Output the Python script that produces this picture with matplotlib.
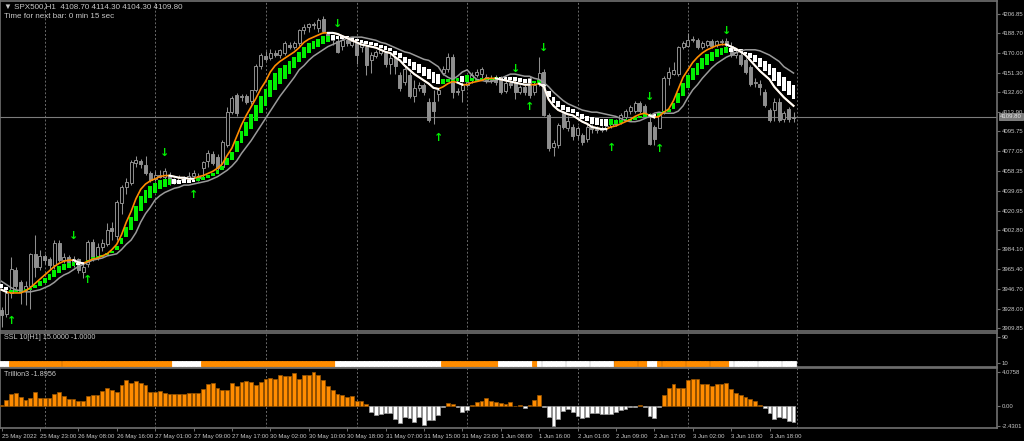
import matplotlib
matplotlib.use('Agg')
import matplotlib.pyplot as plt
import numpy as np

plt.rcParams['font.family'] = ['Liberation Sans', 'DejaVu Sans']

# ---------------- data ----------------
opens = [3927, 3923, 3943, 3965, 3953, 3946, 3950, 3980, 3968, 3978,
         3975, 3969, 3990, 3974, 3977, 3972, 3975, 3963, 3970, 3991,
         3977, 3986, 3989, 4004, 3997, 4028, 4043, 4047, 4066, 4068,
         4064, 4056, 4051, 4055, 4053, 4055, 4048, 4050, 4052, 4051,
         4054, 4054, 4061, 4068, 4074, 4072, 4062, 4083, 4114, 4130,
         4128, 4129, 4125, 4135, 4158, 4167, 4165, 4170, 4168, 4170,
         4178, 4176, 4179, 4192, 4195, 4197, 4194, 4202, 4188, 4185,
         4181, 4177, 4182, 4178, 4179, 4176, 4176, 4163, 4167, 4170,
         4170, 4160, 4165, 4149, 4143, 4149, 4129, 4137, 4140, 4124,
         4124, 4131, 4151, 4155, 4166, 4133, 4135, 4140, 4144, 4149,
         4150, 4147, 4144, 4146, 4146, 4134, 4142, 4143, 4133, 4138,
         4146, 4133, 4141, 4152, 4111, 4081, 4083, 4113, 4099, 4100,
         4092, 4092, 4089, 4100, 4098, 4097, 4099, 4101, 4103, 4105,
         4109, 4115, 4115, 4123, 4120, 4105, 4100, 4099, 4114, 4146,
         4150, 4150, 4176, 4177, 4182, 4182, 4176, 4178, 4181, 4178,
         4180, 4181, 4177, 4168, 4168, 4163, 4157, 4142, 4141, 4133,
         4116, 4116, 4124, 4108, 4117, 4108.7]
highs = [3930, 3949, 3977, 3968, 3955, 3954, 3981, 3998, 3984, 3980,
         3977, 3993, 3993, 3981, 3979, 3978, 3976, 3971, 3993, 3994,
         3990, 3994, 4009, 4010, 4031, 4045, 4052, 4069, 4073, 4070,
         4073, 4058, 4058, 4059, 4061, 4057, 4052, 4055, 4054, 4057,
         4059, 4056, 4068, 4078, 4077, 4074, 4088, 4119, 4129, 4132,
         4131, 4131, 4135, 4160, 4170, 4172, 4174, 4173, 4174, 4181,
         4180, 4181, 4193, 4197, 4198, 4199, 4203, 4205, 4190, 4186,
         4184, 4184, 4183, 4182, 4180, 4181, 4178, 4171, 4173, 4175,
         4172, 4170, 4168, 4152, 4158, 4152, 4144, 4143, 4142, 4127,
         4135, 4137, 4158, 4170, 4169, 4137, 4143, 4146, 4152, 4155,
         4157, 4150, 4149, 4149, 4148, 4144, 4144, 4145, 4140, 4140,
         4148, 4143, 4166, 4155, 4113, 4088, 4104, 4115, 4110, 4103,
         4101, 4094, 4103, 4103, 4101, 4101, 4104, 4106, 4108, 4113,
         4117, 4121, 4125, 4125, 4122, 4113, 4102, 4114, 4148, 4157,
         4161, 4177, 4181, 4189, 4186, 4184, 4181, 4182, 4183, 4182,
         4183, 4184, 4180, 4173, 4170, 4165, 4159, 4146, 4144, 4136,
         4118, 4127, 4127, 4115, 4119, 4114.3]
lows = [3911, 3920, 3938, 3947, 3933, 3932, 3928, 3958, 3965, 3970,
        3965, 3966, 3972, 3971, 3969, 3968, 3962, 3957, 3968, 3973,
        3974, 3983, 3987, 3993, 3993, 4018, 4037, 4045, 4062, 4061,
        4055, 4048, 4049, 4052, 4050, 4045, 4046, 4048, 4049, 4049,
        4052, 4049, 4053, 4062, 4064, 4059, 4060, 4081, 4112, 4110,
        4125, 4122, 4122, 4133, 4155, 4162, 4163, 4166, 4165, 4168,
        4174, 4174, 4177, 4188, 4190, 4193, 4190, 4189, 4182, 4178,
        4170, 4173, 4177, 4176, 4160, 4171, 4149, 4151, 4165, 4168,
        4157, 4150, 4150, 4134, 4140, 4127, 4124, 4134, 4130, 4105,
        4103, 4125, 4149, 4152, 4127, 4130, 4124, 4138, 4142, 4147,
        4146, 4142, 4142, 4140, 4131, 4132, 4137, 4126, 4131, 4130,
        4127, 4130, 4139, 4110, 4077, 4073, 4080, 4098, 4096, 4088,
        4089, 4083, 4086, 4094, 4094, 4095, 4096, 4099, 4101, 4103,
        4107, 4112, 4113, 4113, 4111, 4083, 4083, 4099, 4112, 4140,
        4149, 4148, 4174, 4176, 4180, 4174, 4174, 4176, 4175, 4176,
        4178, 4176, 4166, 4165, 4158, 4150, 4139, 4138, 4130, 4119,
        4105, 4106, 4105, 4105, 4105, 4104.3]
closes = [3922, 3943, 3966, 3950, 3946, 3950, 3980, 3968, 3978, 3974,
          3969, 3990, 3974, 3977, 3972, 3975, 3965, 3968, 3991, 3976,
          3986, 3990, 4003, 4002, 4029, 4043, 4048, 4067, 4069, 4065,
          4056, 4050, 4055, 4053, 4058, 4047, 4050, 4052, 4051, 4054,
          4056, 4052, 4067, 4075, 4066, 4061, 4086, 4114, 4127, 4113,
          4129, 4124, 4135, 4158, 4168, 4164, 4170, 4168, 4173, 4179,
          4176, 4179, 4192, 4195, 4197, 4196, 4201, 4191, 4185, 4182,
          4171, 4182, 4179, 4181, 4168, 4180, 4159, 4168, 4171, 4173,
          4160, 4165, 4158, 4137, 4155, 4129, 4137, 4140, 4133, 4107,
          4115, 4135, 4155, 4166, 4133, 4134, 4140, 4143, 4149, 4152,
          4155, 4144, 4146, 4143, 4133, 4142, 4140, 4133, 4138, 4133,
          4130, 4140, 4151, 4111, 4080, 4085, 4102, 4100, 4106, 4091,
          4099, 4086, 4100, 4098, 4097, 4099, 4101, 4103, 4106, 4111,
          4115, 4119, 4123, 4115, 4113, 4084, 4089, 4111, 4146, 4152,
          4154, 4176, 4179, 4182, 4183, 4176, 4179, 4181, 4177, 4181,
          4181, 4178, 4168, 4171, 4160, 4152, 4141, 4143, 4138, 4121,
          4107, 4124, 4107, 4113, 4108, 4109.8]

fast_ma = [3946, 3944, 3943, 3943, 3943, 3945, 3948, 3952, 3956, 3960,
           3964, 3968, 3971, 3973, 3974, 3974, 3972, 3971, 3973, 3975,
           3976, 3978, 3980, 3984, 3989, 3998, 4010, 4020, 4032, 4041,
           4046, 4049, 4051, 4053, 4054, 4054, 4053, 4052, 4052, 4051,
           4051, 4053, 4054, 4056, 4058, 4061, 4065, 4073, 4080, 4091,
           4102, 4111, 4119, 4127, 4136, 4143, 4152, 4158, 4162, 4165,
           4168, 4171, 4175, 4180, 4183, 4185, 4187, 4189, 4189, 4189,
           4188, 4186, 4184, 4182, 4180, 4178, 4177, 4176, 4175, 4173,
           4171, 4170, 4166, 4163, 4158, 4154, 4150, 4147, 4144, 4141,
           4137, 4136, 4138, 4141, 4143, 4142, 4140, 4140, 4142, 4143,
           4144, 4146, 4146, 4146, 4145, 4144, 4143, 4142, 4141, 4140,
           4140, 4140, 4141, 4138, 4126, 4120, 4116, 4114, 4112, 4111,
           4108, 4105, 4103, 4100, 4099, 4098, 4098, 4100, 4101, 4103,
           4105, 4107, 4110, 4112, 4113, 4111, 4109, 4110, 4114, 4117,
           4125, 4136, 4147, 4154, 4161, 4166, 4170, 4173, 4175, 4177,
           4178, 4178, 4176, 4174, 4171, 4168, 4163, 4158, 4153, 4149,
           4145, 4138, 4133, 4128, 4124, 4120]
slow_ma = [3954, 3951, 3948, 3946, 3945, 3944, 3944, 3945, 3946, 3948,
           3950, 3953, 3957, 3960, 3962, 3965, 3968, 3970, 3972, 3974,
           3975, 3976, 3978, 3979, 3980, 3984, 3989, 3993, 4000, 4010,
           4018, 4024, 4031, 4035, 4038, 4040, 4042, 4043, 4045, 4045,
           4046, 4047, 4048, 4049, 4051, 4053, 4056, 4059, 4063, 4068,
           4075, 4081, 4087, 4094, 4101, 4108, 4115, 4122, 4129, 4135,
           4141, 4147, 4154, 4158, 4163, 4167, 4170, 4173, 4176, 4178,
           4180, 4182, 4184, 4185, 4185, 4185, 4184, 4183, 4182, 4180,
           4179, 4177, 4175, 4173, 4171, 4170, 4168, 4166, 4164, 4163,
           4160, 4157, 4150, 4147, 4145, 4148, 4152, 4154, 4149, 4145,
           4144, 4143, 4143, 4144, 4146, 4148, 4150, 4150, 4149, 4148,
           4148, 4146, 4145, 4142, 4138, 4133, 4129, 4125, 4122, 4120,
           4118, 4116, 4115, 4114, 4114, 4113, 4112, 4111, 4110, 4108,
           4106, 4105, 4105, 4106, 4108, 4110, 4113, 4114, 4113, 4113,
           4113, 4115, 4120, 4128, 4135, 4140, 4146, 4151, 4156, 4160,
           4163, 4166, 4168, 4170, 4172, 4173, 4173, 4173, 4172, 4170,
           4168, 4165, 4162, 4157, 4154, 4151]

trillion = [0.08, 0.72, 1.44, 1.52, 1.04, 0.72, 0.92, 1.64, 0.92, 1.0,
            1.0, 1.4, 1.64, 1.2, 0.84, 0.84, 0.56, 0.56, 1.24, 1.32,
            1.32, 1.8, 2.2, 1.92, 1.68, 2.6, 3.12, 2.8, 3.04, 2.8,
            2.6, 1.72, 1.72, 1.76, 1.52, 1.44, 1.44, 1.44, 1.44, 1.52,
            1.52, 1.6, 2.04, 2.64, 2.8, 2.2, 1.92, 1.92, 2.8, 2.44,
            2.92, 3.0, 2.92, 2.52, 2.92, 3.24, 3.4, 3.28, 3.72, 3.6,
            3.6, 3.96, 3.32, 3.8, 3.8, 4.0758, 3.8, 3.12, 2.4, 1.92,
            1.4, 1.32, 1.12, 1.24, 0.6, 0.64, 0.24, -0.68, -1.08, -0.96,
            -0.8, -0.88, -1.6, -2.08, -1.36, -1.48, -1.88, -1.36, -2.28, -1.68,
            -1.68, -1.08, -0.16, 0.32, 0.24, -0.16, -0.76, -0.48, 0.08, 0.44,
            0.6, 0.92, 0.64, 0.52, 0.4, 0.24, 0.52, 0.04, 0.12, -0.2,
            0.08, 0.72, 1.28, -0.16, -1.28, -2.4301, -1.6, -0.56, -0.36, -0.68,
            -1.2, -1.48, -1.28, -0.8, -0.88, -1.0, -1.0, -0.96, -0.76, -0.48,
            -0.32, -0.16, -0.16, 0.08, -0.16, -1.2, -1.48, -0.16, 1.32, 2.12,
            2.72, 2.12, 2.12, 3.12, 3.24, 3.24, 2.72, 2.64, 2.4, 2.64,
            2.72, 2.8, 2.0, 1.6, 1.32, 1.12, 0.8, 0.6, 0.08, -0.2,
            -0.8, -1.6, -1.28, -1.48, -1.76, -1.8956]

# bar ranges where the trend is down (white), otherwise up
fast_down = [(0, 1), (16, 17), (36, 40), (69, 91), (96, 96), (104, 110),
             (113, 126), (136, 136), (152, 165)]
ssl_down = [(0, 1), (36, 41), (70, 91), (104, 110), (112, 127),
            (135, 136), (152, 165)]

up_arrow_bar = [2, 18, 40, 91, 110, 127, 137]
up_arrow_price = [3916.7, 3955.2, 4035.6, 4089.3, 4118.6, 4079.8, 4078.9]
dn_arrow_bar = [15, 34, 70, 107, 113, 135, 151]
dn_arrow_price = [3996.9, 4075.7, 4197.1, 4154.5, 4175.0, 4128.6, 4190.8]

price_ticks = [4206.85, 4188.70, 4170.00, 4151.30, 4132.60, 4113.90, 4095.75,
               4077.05, 4058.35, 4039.65, 4020.95, 4002.80, 3984.10, 3965.40,
               3946.70, 3928.00, 3909.85]
last_price = 4109.80

time_labels = ['25 May 2022', '25 May 23:00', '26 May 08:00', '26 May 16:00',
               '27 May 01:00', '27 May 09:00', '27 May 17:00', '30 May 02:00',
               '30 May 10:00', '30 May 18:00', '31 May 07:00', '31 May 15:00',
               '31 May 23:00', '1 Jun 08:00', '1 Jun 16:00', '2 Jun 01:00',
               '2 Jun 09:00', '2 Jun 17:00', '3 Jun 02:00', '3 Jun 10:00',
               '3 Jun 18:00']
time_label_bar = [0, 8, 16, 24, 32, 40, 48, 56, 64, 72, 80, 88, 96, 104,
                  112, 120, 128, 136, 144, 152, 160]
day_start_bar = [9, 32, 55, 74, 97, 120, 143, 165.75]

# ---------------- style ----------------
W, H = 1024, 441
BG = 'black'
FRAME = '#707070'
CANDLE = '#8f8f8f'
TXT = '#c8c8c8'
ORANGE = '#ff8c00'
LIME = '#00f000'
GRID = '#6a6a6a'
SMALL = ['Liberation Sans', 'DejaVu Sans']
SMALL_SIZE = 4.3


def px_axes(fig, x0, y0, x1, y1):
    return fig.add_axes([x0 / W, 1 - y1 / H, (x1 - x0) / W, (y1 - y0) / H])


fig = plt.figure(figsize=(W / 100, H / 100), dpi=100, facecolor=BG)
ax = px_axes(fig, 0, 1, 997, 331)
ax_ssl = px_axes(fig, 0, 333, 997, 367)
ax_tr = px_axes(fig, 0, 368, 997, 428)

n = len(closes)
x = np.arange(n)
xlim = (-1.5 / 4.8, (997 - 1.5) / 4.8)

for a in (ax, ax_ssl, ax_tr):
    a.set_facecolor(BG)
    a.set_xlim(*xlim)
    for s in a.spines.values():
        s.set_color(FRAME)
        s.set_linewidth(1.2)
    for d in day_start_bar:
        a.axvline(d, color=GRID, lw=0.7, ls=(0, (2, 2)), zorder=1)
    a.tick_params(axis='x', length=0, labelbottom=False)
    a.yaxis.tick_right()
    a.tick_params(axis='y', colors=FRAME, labelcolor=TXT, length=2.5,
                  width=0.8, pad=1, labelsize=SMALL_SIZE)

# ---------------- main chart ----------------
ax.set_ylim(3907.0, 4219.15)
o = np.array(opens, float)
h = np.array(highs, float)
l = np.array(lows, float)
c = np.array(closes, float)
up = c >= o
ax.vlines(x, l, h, color=CANDLE, lw=0.75, zorder=2)
body = np.maximum(np.abs(c - o), 0.6)
ax.bar(x[up], body[up], bottom=o[up], width=0.62, facecolor=BG,
       edgecolor=CANDLE, lw=0.7, zorder=3)
ax.bar(x[~up], body[~up], bottom=c[~up], width=0.62, facecolor=CANDLE,
       edgecolor=CANDLE, lw=0.7, zorder=3)

ax.axhline(last_price, color='#7c7c7c', lw=0.8, zorder=1.5)

# cloud bars between the two averages
fast = np.array(fast_ma, float)
slow = np.array(slow_ma, float)
is_down = np.zeros(n, bool)
for a0, b0 in fast_down:
    is_down[a0:b0 + 1] = True
p1 = fast + 0.2 * (slow - fast)
p2 = fast + 0.65 * (slow - fast)
bot = np.minimum(p1, p2)
hgt = np.maximum(np.abs(p2 - p1), 2.2)
cloud_col = np.where(is_down, 'white', LIME)
ax.bar(x, hgt, bottom=bot, width=0.78, color=cloud_col, lw=0, zorder=4)

ax.plot(x, slow, color='#9a9a9a', lw=1.1, zorder=5)
ax.plot(x, fast, color=ORANGE, lw=1.2, zorder=6)
for a0, b0 in fast_down:
    seg = np.arange(max(a0 - 1, 0), b0 + 1)
    ax.plot(seg, fast[seg], color='white', lw=1.5, zorder=7)

for b, p in zip(up_arrow_bar, up_arrow_price):
    ax.text(b, p, '\u2191', color=LIME, fontsize=8, fontweight='bold',
            ha='center', va='center', family='DejaVu Sans', zorder=8)
for b, p in zip(dn_arrow_bar, dn_arrow_price):
    ax.text(b, p, '\u2193', color=LIME, fontsize=8, fontweight='bold',
            ha='center', va='center', family='DejaVu Sans', zorder=8)

ax.set_yticks(price_ticks)
ax.set_yticklabels([f'{v:.2f}' for v in price_ticks], family=SMALL)
ax.text(1.003, last_price, f'{last_price:.2f}', transform=ax.get_yaxis_transform(),
        ha='left', va='center', fontsize=SMALL_SIZE, family=SMALL, color='#e8e8e8',
        bbox=dict(boxstyle='square,pad=0.2', fc='#7a7a7a', ec='#9a9a9a', lw=0.5),
        clip_on=False, zorder=10)

fig.text(4 / W, 1 - 7 / H,
         '\u25bc SPX500,H1  4108.70 4114.30 4104.30 4109.80',
         color=TXT, fontsize=5.8, va='center', ha='left')
fig.text(4 / W, 1 - 16 / H, 'Time for next bar: 0 min 15 sec',
         color=TXT, fontsize=5.8, va='center', ha='left')

# ---------------- SSL pane ----------------
ax_ssl.set_ylim(-3.4, 102.4)
ssl_col = np.full(n, ORANGE, dtype=object)
for a0, b0 in ssl_down:
    ssl_col[a0:b0 + 1] = 'white'
ax_ssl.bar(x, 16, bottom=-1, width=1.0, color=list(ssl_col),
           edgecolor=list(ssl_col), lw=0.6, zorder=3)
ax_ssl.set_yticks([90, 10])
ax_ssl.set_yticklabels(['90', '10'], family=SMALL)
ax_ssl.text(4 / 997, 0.86, 'SSL 10[H1] 15.0000 -1.0000', transform=ax_ssl.transAxes,
            color=TXT, fontsize=5.2, va='center', ha='left')

# ---------------- Trillion3 pane ----------------
ax_tr.set_ylim(-2.64, 4.59)
tr = np.array(trillion)
pos = tr >= 0
ax_tr.bar(x[pos], tr[pos], width=0.8, color=ORANGE, edgecolor='#9a5500',
          lw=0.5, zorder=3)
ax_tr.bar(x[~pos], tr[~pos], width=0.8, color='white', edgecolor='#a0a0a0',
          lw=0.5, zorder=3)
ax_tr.set_yticks([4.0758, 0.0, -2.4301])
ax_tr.set_yticklabels(['4.0758', '0.00', '-2.4301'], family=SMALL)
ax_tr.text(4 / 997, 0.9, 'Trillion3 -1.8956', transform=ax_tr.transAxes,
           color=TXT, fontsize=5.2, va='center', ha='left')

ax_tr.set_xticks(time_label_bar)
ax_tr.set_xticklabels(time_labels, family=SMALL)
ax_tr.tick_params(axis='x', length=2.5, width=0.7, colors=FRAME, labelcolor=TXT,
                  labelbottom=True, labelsize=SMALL_SIZE, pad=1.5)
for lab in ax_tr.get_xticklabels():
    lab.set_horizontalalignment('left')

fig.savefig('out.png', dpi=100, facecolor=BG)
